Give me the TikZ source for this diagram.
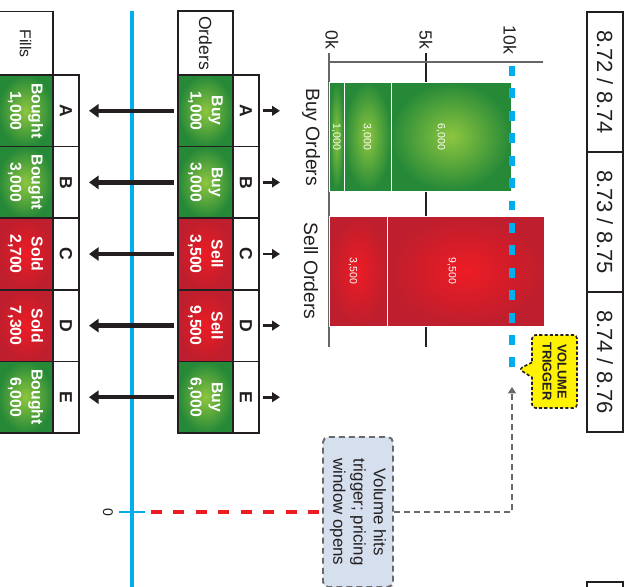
\documentclass[tikz,border=0pt]{standalone}
\usepackage{fontspec}
\setmainfont{Liberation Sans}
\usetikzlibrary{arrows.meta}
\usetikzlibrary{positioning}
\usetikzlibrary{shapes.callouts}

\definecolor{inkgrey}{RGB}{35,31,32}
\definecolor{cyanline}{RGB}{0,174,239}
\definecolor{greenlight}{RGB}{141,198,63}
\definecolor{greendark}{RGB}{38,137,56}
\definecolor{redlight}{RGB}{237,28,36}
\definecolor{reddark}{RGB}{190,30,45}
\definecolor{notefill}{RGB}{213,223,238}
\definecolor{noteline}{RGB}{105,105,105}
\definecolor{trigyellow}{RGB}{255,242,0}
\definecolor{hotdash}{RGB}{237,28,36}

\tikzset{
  tonefill/.style={shade,shading=radial,inner color=#1light,outer color=#1dark},
  pricebox/.style={draw=inkgrey,line width=1.1pt,minimum width=2.8cm,minimum height=0.72cm,
    inner sep=0pt,outer sep=0pt,text=inkgrey,font=\fontsize{12.5}{15}\selectfont},
  tablecell/.style={draw=inkgrey,line width=1pt,inner sep=0pt,outer sep=0pt,minimum width=1.432cm},
  ordercell/.style={tablecell,minimum height=1.1cm,align=center,text=white,
    font=\fontsize{9}{12}\selectfont\bfseries},
  lettercell/.style={tablecell,fill=white,minimum height=0.52cm,text=inkgrey,
    font=\fontsize{10}{12}\selectfont\bfseries},
  headcell/.style={tablecell,fill=white,minimum width=1.28cm,minimum height=1.1cm,text=inkgrey},
  barseg/.style={draw=white,very thin},
  barlabel/.style={text=white,font=\fontsize{6}{7}\selectfont},
  ticklabel/.style={text=inkgrey,font=\fontsize{10}{12}\selectfont},
  bigarrow/.style={draw=inkgrey,line width=2.4pt,-{Triangle[width=7.5pt,length=5.5pt]}},
  smallarrow/.style={draw=inkgrey,line width=1.6pt,-{Triangle[width=5.5pt,length=4.5pt]}},
  trigcallout/.style={rectangle callout,fill=trigyellow,draw=inkgrey,line width=0.9pt,
    dash pattern=on 1.8pt off 1.2pt,rounded corners=2pt,minimum width=1.46cm,minimum height=0.9cm,
    callout pointer width=0.3cm,
    inner sep=0pt,align=center,text=inkgrey,font=\fontsize{7.3}{8.5}\selectfont\bfseries},
  notebox/.style={fill=notefill,draw=noteline,line width=1.1pt,dash pattern=on 3.4pt off 2.3pt,
    rounded corners=3pt,minimum width=3cm,minimum height=1.4cm,inner sep=0pt,align=center,
    text=inkgrey,font=\fontsize{9.6}{11.5}\selectfont},
  notearrow/.style={draw=noteline,line width=1.1pt,dash pattern=on 3.4pt off 2.3pt,
    -{Triangle[width=4.5pt,length=3.6pt]}},
  reddash/.style={draw=hotdash,line width=2.3pt,dash pattern=on 6.2pt off 6.6pt},
}

\begin{document}
\begin{tikzpicture}[x=0.02cm,y=0.02cm,rotate=-90,transform shape]
\useasboundingbox (0,0) rectangle (586,630);
\clip (0,0) rectangle (586,630);

% price bands
\node[pricebox] (pr1) at (82,605) {8.72 / 8.74};
\node[pricebox,right=0pt of pr1] (pr2) {8.73 / 8.75};
\node[pricebox,right=0pt of pr2] (pr3) {8.74 / 8.76};
\node[pricebox] (pr4) at (652,605) {};

% volume chart
\draw[gray!80!black,line width=0.6pt] (53,329) -- (347,329);
\draw[inkgrey,line width=0.6pt] (53,426) -- (347,426);
\draw[gray!80!black,line width=0.6pt] (62,329) -- (62,543);
\node[ticklabel] at (40,332) {0k};
\node[ticklabel] at (40,426) {5k};
\node[ticklabel] at (40,510) {10k};

\draw[barseg,tonefill=green] (82,329) rectangle (191,344);
\draw[barseg,tonefill=green] (82,344) rectangle (191,391);
\draw[barseg,tonefill=green] (82,391) rectangle (191,511);
\draw[barseg,tonefill=red] (216,329) rectangle (326,387);
\draw[barseg,tonefill=red] (216,387) rectangle (326,544);
\node[barlabel] at (137,336.5) {1,000};
\node[barlabel] at (137,367) {3,000};
\node[barlabel] at (137,441) {6,000};
\node[barlabel] at (271,353) {3,500};
\node[barlabel] at (271,452) {9,500};
\node[text=inkgrey,font=\fontsize{11}{13}\selectfont] at (137,311) {Buy Orders};
\node[text=inkgrey,font=\fontsize{11}{13}\selectfont] at (271,311) {Sell Orders};

% volume trigger
\coordinate (trigstart) at (66,512);
\coordinate (trigend) at (370,512);
\coordinate (trigtip) at (387,512);
\coordinate (trigpoint) at (369,519);
\draw[cyanline,line width=3.4pt,dash pattern=on 5.67pt off 7.09pt] (trigstart) -- (trigend);
\node[trigcallout,callout absolute pointer={(trigpoint)}] (vtrig) at (371.5,554.5) {VOLUME\\TRIGGER};

% time line
\draw[cyanline,line width=2.3pt] (11,132) -- (600,132);
\draw[cyanline,line width=1.2pt] (512,119) -- (512,145);
\node[text=inkgrey,font=\fontsize{8}{10}\selectfont] (zerolbl) at (512,108) {0};
\coordinate (zerotick) at (512,151);

\node[notebox] (note) at (512,358) {Volume hits\\trigger; pricing\\window opens};
\draw[notearrow] (note.north) |- (trigtip);
\draw[reddash] (zerotick) -- (note.south);

% orders and fills
\node[headcell,font=\fontsize{10}{12}\selectfont] (ordhead) at (43,205.5) {Orders};
\node[headcell,font=\fontsize{9}{11}\selectfont] (filhead) at (43.5,25.5) {Fills};
\foreach \ltr/\tone/\ordtxt/\filtxt [count=\i from 0] in {
  A/green/{Buy\\1,000}/{Bought\\1,000},
  B/green/{Buy\\3,000}/{Bought\\3,000},
  C/red/{Sell\\3,500}/{Sold\\2,700},
  D/red/{Sell\\9,500}/{Sold\\7,300},
  E/green/{Buy\\6,000}/{Bought\\6,000}}{
  \node[ordercell,tonefill=\tone] (ord\ltr) at (110.8+71.6*\i,205.5) {\ordtxt};
  \node[lettercell,above=0pt of ord\ltr] (olt\ltr) {\ltr};
  \node[ordercell,tonefill=\tone] (fil\ltr) at (110.8+71.6*\i,25.5) {\filtxt};
  \node[lettercell,above=0pt of fil\ltr] (flt\ltr) {\ltr};
  \draw[bigarrow,shorten <=0.08cm,shorten >=0.2cm] (ord\ltr.south) -- (flt\ltr.north);
  \draw[smallarrow] (olt\ltr.north) ++(0,4) -- ++(0,17);
}

\end{tikzpicture}
\end{document}
